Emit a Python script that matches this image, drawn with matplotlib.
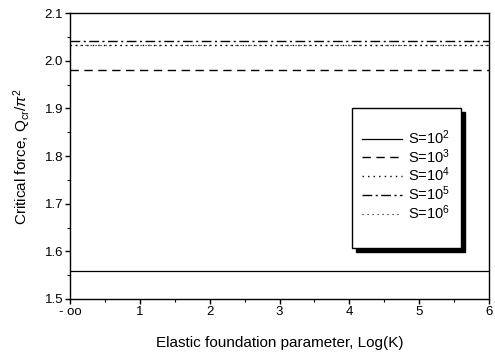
import numpy as np
import matplotlib
matplotlib.use("Agg")
import matplotlib.pyplot as plt
from matplotlib.patches import Rectangle

plt.rcParams['font.family'] = ['Liberation Sans', 'DejaVu Sans']
plt.rcParams['mathtext.fontset'] = 'custom'
plt.rcParams['mathtext.rm'] = 'Liberation Sans'
plt.rcParams['mathtext.it'] = 'Liberation Sans:italic'

# ---------- Data ----------
logK = [0, 1, 2, 3, 4, 5, 6]   # 0 stands for -oo
tick_labels = ['- oo', '1', '2', '3', '4', '5', '6']
q_s2 = [1.559, 1.559, 1.559, 1.559, 1.559, 1.559, 1.559]
q_s3 = [1.981, 1.981, 1.981, 1.981, 1.981, 1.981, 1.981]
q_s4 = [2.034, 2.034, 2.034, 2.034, 2.034, 2.034, 2.034]
q_s5 = [2.042, 2.042, 2.042, 2.042, 2.042, 2.042, 2.042]
q_s6 = [2.034, 2.034, 2.034, 2.034, 2.034, 2.034, 2.034]
labels = ['S=10$^2$', 'S=10$^3$', 'S=10$^4$', 'S=10$^5$', 'S=10$^6$']

# ---------- Plot ----------
fig = plt.figure(figsize=(4.95, 3.53), dpi=100)
ax = fig.add_axes([0.1414, 0.153, 0.8465, 0.810])

ax.plot(logK, q_s2, color='black', lw=0.9, ls='-', label=labels[0])
ax.plot(logK, q_s3, color='black', lw=1.0, ls=(0, (6, 4)), label=labels[1])
ax.plot(logK, q_s4, color='black', lw=1.0, ls=(0, (1, 3)), label=labels[2])
ax.plot(logK, q_s5, color='black', lw=1.0, ls=(0, (7, 2.5, 1.5, 2.5)), label=labels[3])
ax.plot(logK, q_s6, color='black', lw=0.8, ls=(0, (1, 3.5)), label=labels[4])

ax.set_xlim(0, 6)
ax.set_ylim(1.5, 2.1)
ax.set_xticks(logK)
ax.set_xticklabels(tick_labels)
ax.set_xticks(np.arange(0.5, 6, 1), minor=True)
ax.set_yticks([1.5, 1.6, 1.7, 1.8, 1.9, 2.0, 2.1])
ax.set_yticks(np.arange(1.55, 2.1, 0.1), minor=True)
ax.tick_params(axis='both', which='major', direction='out', length=3.5, width=1,
               labelsize=9.5, pad=1.5)
ax.tick_params(axis='both', which='minor', direction='out', length=2.5, width=0.8)
for sp in ax.spines.values():
    sp.set_linewidth(1.0)

ax.set_xlabel('Elastic foundation parameter, Log(K)', fontsize=11, labelpad=13)
ax.set_ylabel('Critical force, Q$_{\\mathrm{cr}}$/$\\pi^2$', fontsize=11, labelpad=8)

# legend box with black drop shadow
bx, by, bw, bh = 0.673, 0.178, 0.26, 0.49
ax.add_patch(Rectangle((bx + 0.0095, by - 0.014), bw, bh, transform=ax.transAxes,
                       facecolor='black', edgecolor='black', zorder=5))
ax.add_patch(Rectangle((bx, by), bw, bh, transform=ax.transAxes,
                       facecolor='white', edgecolor='black', lw=1.0, zorder=6))
leg = ax.legend(loc='center', bbox_to_anchor=(bx + bw / 2, by + bh / 2 + 0.01),
                fontsize=10.5, frameon=False, borderpad=0, labelspacing=0.02,
                handlelength=2.7, handletextpad=0.45, borderaxespad=0)
leg.set_zorder(7)

plt.savefig('out.png', dpi=100)
